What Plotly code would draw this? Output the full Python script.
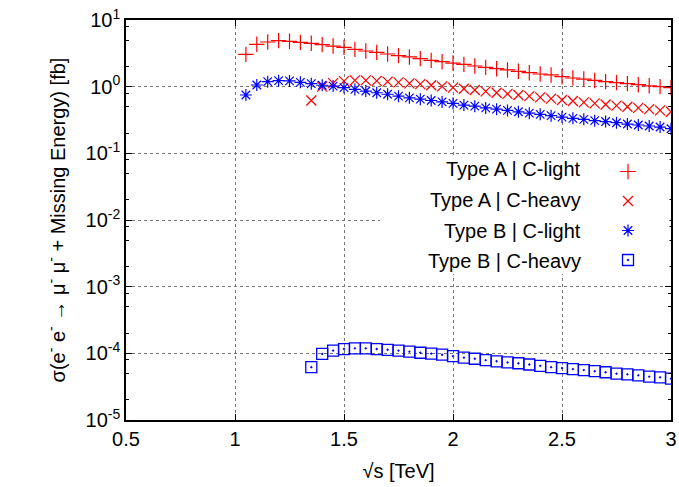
import plotly.graph_objects as go

# ---------------- data ----------------
x_light = [round(1.05 + 0.05 * i, 2) for i in range(40)]
x_heavy = [round(1.35 + 0.05 * i, 2) for i in range(34)]

typeA_light = [3.05, 4.32, 4.68, 4.90, 4.79, 4.62, 4.47, 4.27, 4.07, 3.89,
               3.63, 3.43, 3.27, 3.09, 2.92, 2.79, 2.63, 2.48, 2.37, 2.26,
               2.16, 2.04, 1.95, 1.86, 1.78, 1.70, 1.62, 1.55, 1.50, 1.41,
               1.35, 1.30, 1.24, 1.19, 1.15, 1.11, 1.07, 1.03, 1.00, 0.97]

typeA_heavy = [0.62, 1.00, 1.13, 1.21, 1.24, 1.24, 1.22, 1.19, 1.16, 1.12,
               1.09, 1.05, 1.01, 0.97, 0.93, 0.89, 0.85, 0.81, 0.78, 0.75,
               0.72, 0.69, 0.66, 0.63, 0.61, 0.58, 0.56, 0.54, 0.52, 0.50,
               0.48, 0.46, 0.44, 0.42]

typeB_light = [0.75, 1.06, 1.19, 1.23, 1.22, 1.16, 1.11, 1.05, 1.02, 0.97,
               0.91, 0.86, 0.81, 0.77, 0.72, 0.68, 0.65, 0.62, 0.59, 0.56,
               0.53, 0.51, 0.48, 0.46, 0.44, 0.42, 0.40, 0.385, 0.367, 0.35,
               0.335, 0.324, 0.309, 0.30, 0.288, 0.275, 0.266, 0.257, 0.248, 0.234]

typeB_heavy = [6.2e-5, 9.8e-5, 1.10e-4, 1.16e-4, 1.19e-4, 1.19e-4, 1.16e-4, 1.13e-4,
               1.10e-4, 1.06e-4, 1.02e-4, 9.9e-5, 9.55e-5, 9.1e-5, 8.6e-5, 8.3e-5,
               7.9e-5, 7.6e-5, 7.3e-5, 7.1e-5, 6.8e-5, 6.5e-5, 6.2e-5, 6.0e-5,
               5.8e-5, 5.6e-5, 5.4e-5, 5.2e-5, 4.95e-5, 4.84e-5, 4.68e-5, 4.47e-5,
               4.37e-5, 4.17e-5]

series_names = ["Type A | C-light", "Type A | C-heavy", "Type B | C-light", "Type B | C-heavy"]

x_tickvals = [0.5, 1, 1.5, 2, 2.5, 3]
x_ticktext = ["0.5", "1", "1.5", "2", "2.5", "3"]
y_tickvals = [1e-5, 1e-4, 1e-3, 1e-2, 1e-1, 1e0, 1e1]
y_ticktext = ["10<sup>-5</sup>", "10<sup>-4</sup>", "10<sup>-3</sup>", "10<sup>-2</sup>",
              "10<sup>-1</sup>", "10<sup>0</sup>", "10<sup>1</sup>"]
y_minor = [m * 10.0 ** e for e in range(-5, 1) for m in (2, 5, 8)]

# ---------------- styles ----------------
RED = "#ff0000"
BLUE = "#0000ff"
FONT = "Liberation Sans, Arial, sans-serif"
FS = 20
styles = [
    dict(symbol="cross-thin", size=11, color=RED, line=dict(color=RED, width=1.2)),
    dict(symbol="x-thin", size=10, color=RED, line=dict(color=RED, width=1.2)),
    dict(symbol="asterisk", size=10, color=BLUE, line=dict(color=BLUE, width=1.2)),
    dict(symbol="square-open-dot", size=11, color=BLUE, line=dict(color=BLUE, width=1.3)),
]
xs = [x_light, x_heavy, x_light, x_heavy]
ys = [typeA_light, typeA_heavy, typeB_light, typeB_heavy]

fig = go.Figure()
for name, x, y, st in zip(series_names, xs, ys, styles):
    fig.add_trace(go.Scatter(x=x, y=y, mode="markers", name=name, marker=st,
                             showlegend=False))
# legend keys (symbols only; labels drawn as annotations to their left)
for i, (name, st) in enumerate(zip(series_names, styles)):
    fig.add_trace(go.Scatter(x=[None], y=[None], mode="markers", name=" ",
                             marker=st, legendgroup=f"g{i}", showlegend=True,
                             hoverinfo="skip"))

# plot area in pixels: left 126, right 671, top 20, bottom 420
L, R, T, B = 126, 671, 20, 420
W, H = 679, 487
def px_x(p):
    return (p - L) / (R - L)
def px_y(p):
    return (B - p) / (B - T)

legend_rows = [169, 200, 231, 261]

fig.update_layout(
    width=W, height=H,
    margin=dict(l=L, r=W - R, t=T, b=H - B, autoexpand=False),
    paper_bgcolor="white", plot_bgcolor="white",
    font=dict(family=FONT, size=FS, color="black"),
    showlegend=True,
    legend=dict(x=px_x(608), xanchor="left", y=px_y(152), yanchor="top",
                bgcolor="rgba(0,0,0,0)", font=dict(size=FS),
                tracegroupgap=0.5, itemwidth=30),
    shapes=[dict(type="rect", xref="paper", yref="paper",
                 x0=px_x(380), x1=px_x(669.5), y0=px_y(274), y1=px_y(155),
                 fillcolor="white", line=dict(width=0), layer="above")],
    annotations=[dict(xref="paper", yref="paper", x=px_x(583), y=px_y(py),
                      xanchor="right", yanchor="middle", text=n, showarrow=False,
                      font=dict(size=FS, family=FONT, color="black"))
                 for n, py in zip(series_names, legend_rows)],
)

fig.update_xaxes(
    range=[0.5, 3], tickmode="array", tickvals=x_tickvals, ticktext=x_ticktext,
    ticks="inside", ticklen=6, tickcolor="black", showline=True, linecolor="black",
    linewidth=1.5, mirror="ticks", showgrid=True, gridcolor="#777777",
    griddash="dot", gridwidth=1, zeroline=False, automargin=False,
    tickfont=dict(size=FS),
    title=dict(text="√s [TeV]", font=dict(size=FS)),
)
fig.update_yaxes(
    type="log", range=[-5, 1], tickmode="array", tickvals=y_tickvals,
    ticktext=y_ticktext, ticks="inside", ticklen=6, tickcolor="black",
    showline=True, linecolor="black", linewidth=1.5, mirror="ticks",
    showgrid=True, gridcolor="#777777", griddash="dot", gridwidth=1,
    zeroline=False, automargin=False, tickfont=dict(size=FS),
    minor=dict(tickmode="array", tickvals=y_minor, ticks="inside", ticklen=3,
               tickcolor="black", showgrid=False),
    title=dict(text="σ(e<sup>-</sup> e<sup>-</sup> → μ<sup>-</sup> μ<sup>-</sup> + Missing Energy) [fb]",
               font=dict(size=FS)),
)

fig.write_html("out.html")
